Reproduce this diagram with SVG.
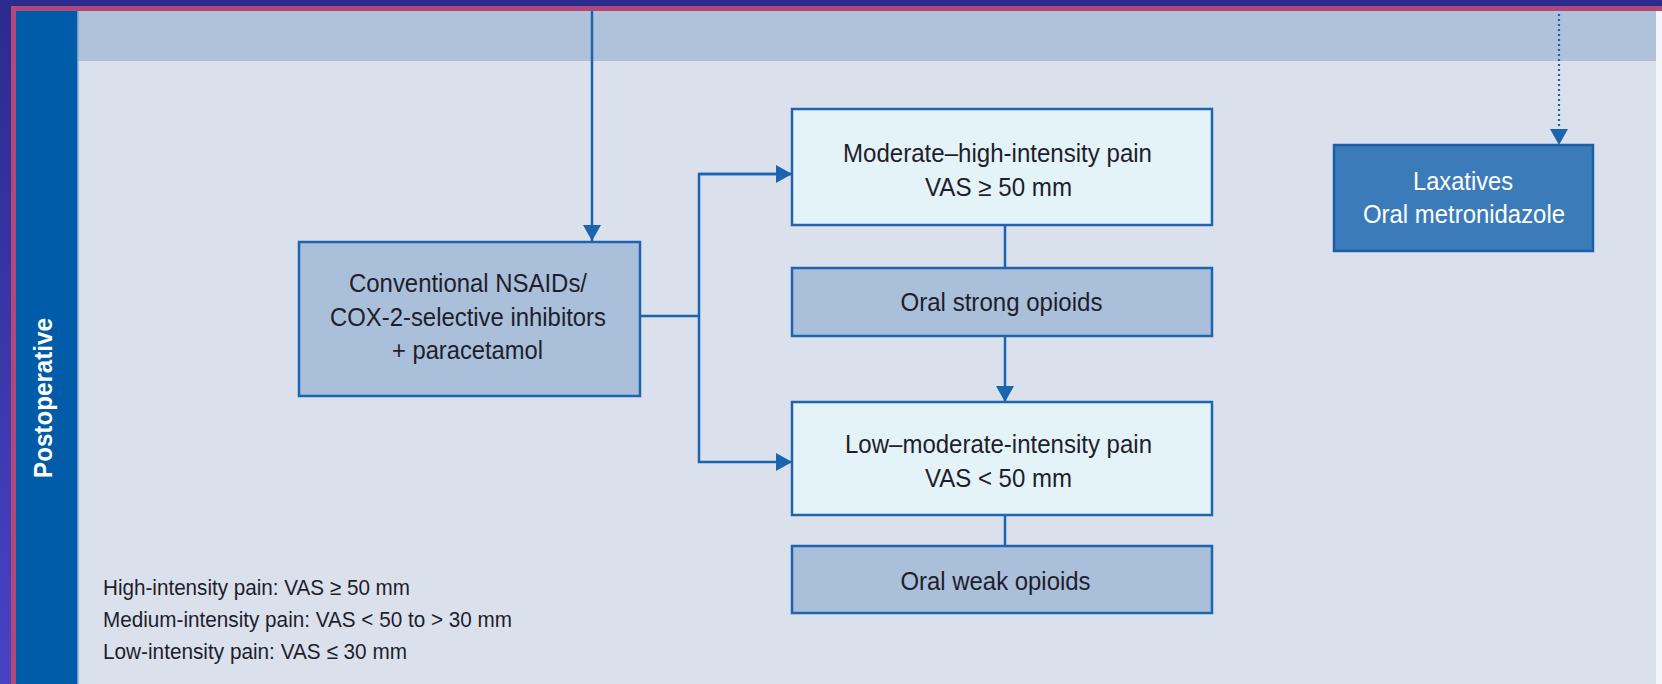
<svg xmlns="http://www.w3.org/2000/svg" width="1662" height="684" viewBox="0 0 1662 684">
<defs>
<linearGradient id="frame" x1="0" y1="0" x2="0" y2="1">
<stop offset="0" stop-color="#2b2b8e"/>
<stop offset="1" stop-color="#4842c4"/>
</linearGradient>
<marker id="ah" viewBox="0 0 16 18" refX="16" refY="9" markerWidth="16" markerHeight="18" markerUnits="userSpaceOnUse" orient="auto">
<path d="M0,0 L16,9 L0,18 Z" fill="#1a64b0"/>
</marker>
</defs>
<style>
.t{font-family:"Liberation Sans",Arial,sans-serif;font-size:25.5px;fill:#1e1e2c;text-anchor:middle}
.w{fill:#ffffff}
.lg{font-family:"Liberation Sans",Arial,sans-serif;font-size:22px;fill:#1e1e2c}
.dark{fill:#aabfda;stroke:#1e64ae;stroke-width:2.5}
.light{fill:#e4f3f8;stroke:#1e64ae;stroke-width:2.5}
.blue{fill:#3c7bb9;stroke:#1a5fa8;stroke-width:2.5}
.c{fill:none;stroke:#1a64b0;stroke-width:2.5}
</style>
<rect x="0" y="0" width="1662" height="684" fill="url(#frame)"/>
<rect x="11" y="6" width="1651" height="678" fill="#b0487a"/>
<rect x="16" y="11" width="1646" height="673" fill="#dbe1ec"/>
<rect x="78" y="11" width="1578" height="50" fill="#b0c2da"/>
<rect x="1656" y="11" width="6" height="673" fill="#f3f5f9"/>
<rect x="16" y="11" width="61" height="673" fill="#005ca8"/>
<rect x="77" y="11" width="1.5" height="673" fill="#6a9ed0"/>
<text transform="translate(52,398) rotate(-90)" font-family="'Liberation Sans',Arial,sans-serif" font-size="25" font-weight="bold" fill="#ffffff" text-anchor="middle" textLength="160" lengthAdjust="spacingAndGlyphs">Postoperative</text>

<g id="connectors">
<line class="c" x1="592" y1="11" x2="592" y2="241" marker-end="url(#ah)"/>
<polyline class="c" points="640,316 699,316"/>
<polyline class="c" points="792,174 699,174 699,462 792,462" marker-end="url(#ah)"/>
<line class="c" x1="699" y1="174" x2="792" y2="174" marker-end="url(#ah)"/>
<line class="c" x1="1005" y1="225" x2="1005" y2="268"/>
<line class="c" x1="1005" y1="336" x2="1005" y2="402" marker-end="url(#ah)"/>
<line class="c" x1="1005" y1="515" x2="1005" y2="546"/>
<line x1="1559" y1="14" x2="1559" y2="145" stroke="#1a64b0" stroke-width="2.2" stroke-dasharray="2 3" marker-end="url(#ah)"/>
</g>

<g id="nsaids">
<rect class="dark" x="299" y="242" width="341" height="154"/>
<text class="t" x="468" y="292" textLength="238" lengthAdjust="spacingAndGlyphs">Conventional NSAIDs/</text>
<text class="t" x="468" y="326" textLength="276" lengthAdjust="spacingAndGlyphs">COX-2-selective inhibitors</text>
<text class="t" x="467.5" y="359" textLength="151" lengthAdjust="spacingAndGlyphs">+ paracetamol</text>
</g>

<g id="moderate-high">
<rect class="light" x="792" y="109" width="420" height="116"/>
<text class="t" x="997.5" y="162" textLength="309" lengthAdjust="spacingAndGlyphs">Moderate–high-intensity pain</text>
<text class="t" x="998.5" y="196" textLength="147" lengthAdjust="spacingAndGlyphs">VAS ≥ 50 mm</text>
</g>

<g id="strong-opioids">
<rect class="dark" x="792" y="268" width="420" height="68"/>
<text class="t" x="1001.5" y="311" textLength="202" lengthAdjust="spacingAndGlyphs">Oral strong opioids</text>
</g>

<g id="low-moderate">
<rect class="light" x="792" y="402" width="420" height="113"/>
<text class="t" x="998.5" y="453" textLength="307" lengthAdjust="spacingAndGlyphs">Low–moderate-intensity pain</text>
<text class="t" x="998.5" y="487" textLength="147" lengthAdjust="spacingAndGlyphs">VAS &lt; 50 mm</text>
</g>

<g id="weak-opioids">
<rect class="dark" x="792" y="546" width="420" height="67"/>
<text class="t" x="995.5" y="590" textLength="190" lengthAdjust="spacingAndGlyphs">Oral weak opioids</text>
</g>

<g id="laxatives">
<rect class="blue" x="1334" y="145" width="259" height="106"/>
<text class="t w" x="1463" y="190" textLength="100" lengthAdjust="spacingAndGlyphs">Laxatives</text>
<text class="t w" x="1464" y="223" textLength="202" lengthAdjust="spacingAndGlyphs">Oral metronidazole</text>
</g>

<g id="legend">
<text class="lg" x="103" y="595" textLength="307" lengthAdjust="spacingAndGlyphs">High-intensity pain: VAS ≥ 50 mm</text>
<text class="lg" x="103" y="627" textLength="409" lengthAdjust="spacingAndGlyphs">Medium-intensity pain: VAS &lt; 50 to &gt; 30 mm</text>
<text class="lg" x="103" y="659" textLength="304" lengthAdjust="spacingAndGlyphs">Low-intensity pain: VAS ≤ 30 mm</text>
</g>
</svg>
